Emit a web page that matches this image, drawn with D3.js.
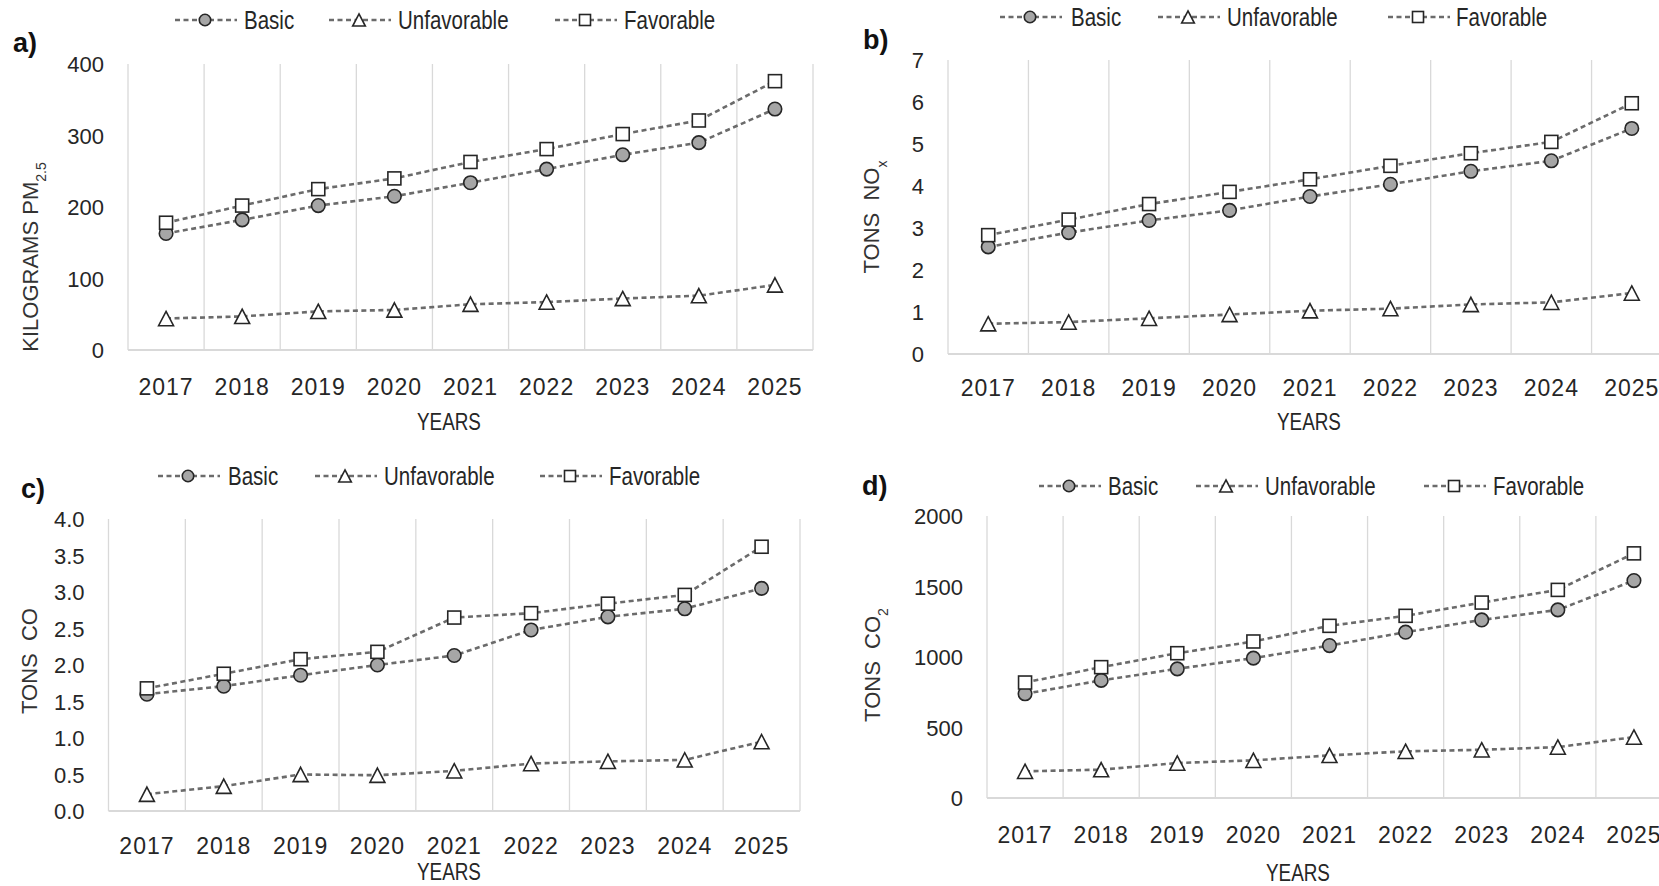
<!DOCTYPE html>
<html>
<head>
<meta charset="utf-8">
<script src="https://cdn.jsdelivr.net/npm/d3@7"></script>
<style>
  body { margin: 0; background: #fff; }
  svg { display: block; font-family: "Liberation Sans", Arial, sans-serif; }
</style>
</head>
<body>
<div id="chart"></div>
<script>
const years = ["2017", "2018", "2019", "2020", "2021", "2022", "2023", "2024", "2025"];
const seriesNames = ["Basic", "Unfavorable", "Favorable"];

// a) kilograms PM2.5
const pmBasic = [163, 182, 202, 215, 234, 253, 273, 290, 337];
const pmUnfav = [44, 47, 54, 56, 64, 67, 72, 76, 91];
const pmFav = [178, 202, 225, 240, 263, 281, 302, 321, 376];
const pmTicks = [0, 100, 200, 300, 400];

// b) tons NOx
const noxBasic = [2.55, 2.89, 3.18, 3.42, 3.75, 4.04, 4.35, 4.6, 5.37];
const noxUnfav = [0.72, 0.76, 0.85, 0.94, 1.03, 1.08, 1.18, 1.23, 1.45];
const noxFav = [2.83, 3.2, 3.57, 3.86, 4.16, 4.48, 4.78, 5.05, 5.97];
const noxTicks = [0, 1, 2, 3, 4, 5, 6, 7];

// c) tons CO
const coBasic = [1.6, 1.71, 1.86, 2.0, 2.13, 2.48, 2.66, 2.77, 3.05];
const coUnfav = [0.23, 0.34, 0.5, 0.49, 0.55, 0.65, 0.68, 0.7, 0.95];
const coFav = [1.68, 1.88, 2.08, 2.18, 2.65, 2.71, 2.84, 2.96, 3.62];
const coTicks = [0, 0.5, 1, 1.5, 2, 2.5, 3, 3.5, 4];

// d) tons CO2
const co2Basic = [739, 834, 916, 992, 1081, 1176, 1263, 1334, 1542];
const co2Unfav = [189, 201, 248, 267, 302, 331, 342, 361, 432];
const co2Fav = [819, 928, 1027, 1110, 1221, 1292, 1386, 1476, 1735];
const co2Ticks = [0, 500, 1000, 1500, 2000];

const panels = [
    {
        tag: "a)", title: ["KILOGRAMS PM", "2.5"], series: [pmBasic, pmUnfav, pmFav],
        ticks: pmTicks, fmt: d3.format("d"),
        left: 128, right: 813, top: 64, bottom: 350,
        tagPos: [13, 42], titlePos: [30, 257], xLabelY: 387, yearsPos: [449, 422],
        legendY: 20, legendX: [[175, 244], [329, 398], [555, 624]]
    },
    {
        tag: "b)", title: ["TONS\u00a0\u00a0NO", "x"], series: [noxBasic, noxUnfav, noxFav],
        ticks: noxTicks, fmt: d3.format("d"),
        left: 948, right: 1672, top: 60, bottom: 354,
        tagPos: [863, 39], titlePos: [871, 217], xLabelY: 388, yearsPos: [1309, 422],
        legendY: 17, legendX: [[1000, 1071], [1158, 1227], [1388, 1456]]
    },
    {
        tag: "c)", title: ["TONS\u00a0\u00a0CO", ""], series: [coBasic, coUnfav, coFav],
        ticks: coTicks, fmt: d3.format(".1f"),
        left: 108.5, right: 800, top: 519, bottom: 811,
        tagPos: [21, 488], titlePos: [29, 661], xLabelY: 846, yearsPos: [449, 872],
        legendY: 476, legendX: [[158, 228], [315, 384], [540, 609]]
    },
    {
        tag: "d)", title: ["TONS\u00a0\u00a0CO", "2"], series: [co2Basic, co2Unfav, co2Fav],
        ticks: co2Ticks, fmt: d3.format("d"),
        left: 987, right: 1672, top: 516, bottom: 798,
        tagPos: [862, 485], titlePos: [872, 665], xLabelY: 835, yearsPos: [1298, 873],
        legendY: 486, legendX: [[1039, 1108], [1196, 1265], [1424, 1493]]
    }
];

const lineColor = "#6b6b6b";
const markerStroke = "#262626";
const narrow = 0.82; // squeeze for the condensed-looking legend / YEARS text

const svg = d3.select("#chart")
    .append("svg")
    .attr("width", 1659)
    .attr("height", 886);

// marker drawing: 0 = circle, 1 = triangle, 2 = square
function drawMarker(sel, type, cx, cy, s) {
    if (type === 0) {
        sel.append("circle")
            .attr("cx", cx).attr("cy", cy).attr("r", s * 0.52)
            .attr("fill", "#a6a6a6");
    } else if (type === 1) {
        const w = s * 1.15, h = s * 1.1;
        sel.append("path")
            .attr("d", `M${cx},${cy - h / 2}L${cx + w / 2},${cy + h / 2}L${cx - w / 2},${cy + h / 2}Z`)
            .attr("fill", "#fff");
    } else {
        sel.append("rect")
            .attr("x", cx - s / 2).attr("y", cy - s / 2)
            .attr("width", s).attr("height", s)
            .attr("fill", "#fff");
    }
    sel.selectAll(":last-child")
        .attr("stroke", markerStroke)
        .attr("stroke-width", 1.6);
}

panels.forEach((p) => {
    const g = svg.append("g");

    const x = d3.scaleBand().domain(years).range([p.left, p.right]).padding(0);
    const y = d3.scaleLinear().domain([0, d3.max(p.ticks)]).range([p.bottom, p.top]);
    const cx = (d) => x(d) + x.bandwidth() / 2;

    // vertical gridlines at category boundaries
    const bounds = years.map((d) => x(d)).concat([x.range()[1]]);
    g.append("g")
        .selectAll("line")
        .data(bounds)
        .join("line")
        .attr("x1", (d) => d).attr("x2", (d) => d)
        .attr("y1", y(d3.max(p.ticks))).attr("y2", y(0))
        .attr("stroke", "#d9d9d9")
        .attr("stroke-width", 1.3);

    // baseline
    g.append("line")
        .attr("x1", p.left).attr("x2", p.right)
        .attr("y1", y(0)).attr("y2", y(0))
        .attr("stroke", "#d9d9d9")
        .attr("stroke-width", 1.8);

    // Y axis
    const yAxis = g.append("g")
        .attr("transform", `translate(${p.left - 24},0)`)
        .call(d3.axisLeft(y).tickValues(p.ticks).tickFormat(p.fmt).tickSize(0).tickPadding(0));
    yAxis.select(".domain").remove();
    yAxis.selectAll("text")
        .attr("dy", "0.36em")
        .style("font-size", "22px")
        .style("font-family", "'Liberation Sans', Arial, sans-serif")
        .attr("fill", "#262626");

    // X axis
    const xAxis = g.append("g")
        .attr("transform", `translate(0,${p.xLabelY})`)
        .call(d3.axisBottom(x).tickSize(0).tickPadding(0));
    xAxis.select(".domain").remove();
    xAxis.selectAll("text")
        .attr("y", 0)
        .attr("dy", "0.36em")
        .style("font-size", "23px")
        .style("letter-spacing", "1px")
        .style("font-family", "'Liberation Sans', Arial, sans-serif")
        .attr("fill", "#262626");

    // X axis label
    g.append("text")
        .attr("transform", `translate(${p.yearsPos[0]},${p.yearsPos[1]}) scale(${narrow},1)`)
        .attr("dy", "0.36em")
        .attr("text-anchor", "middle")
        .style("font-size", "23px")
        .attr("fill", "#262626")
        .text("YEARS");

    // Y axis label
    const yt = g.append("text")
        .attr("transform", `translate(${p.titlePos[0]},${p.titlePos[1]}) rotate(-90)`)
        .attr("dy", "0.36em")
        .attr("text-anchor", "middle")
        .style("font-size", "22px")
        .attr("fill", "#333");
    yt.append("tspan").text(p.title[0]);
    if (p.title[1]) {
        yt.append("tspan")
            .attr("baseline-shift", "sub")
            .style("font-size", "14px")
            .text(p.title[1]);
    }

    // panel tag
    g.append("text")
        .attr("x", p.tagPos[0]).attr("y", p.tagPos[1])
        .attr("dy", "0.36em")
        .style("font-size", "27px")
        .style("font-weight", "bold")
        .attr("fill", "#111")
        .text(p.tag);

    // series
    const line = d3.line()
        .x((d, i) => cx(years[i]))
        .y((d) => y(d));

    p.series.forEach((values, si) => {
        const sg = g.append("g");
        sg.append("path")
            .datum(values)
            .attr("d", line)
            .attr("fill", "none")
            .attr("stroke", lineColor)
            .attr("stroke-width", 2.6)
            .attr("stroke-dasharray", "5,3.5");
        values.forEach((v, i) => {
            drawMarker(sg.append("g"), si, cx(years[i]), y(v), 13);
        });
    });

    // legend
    seriesNames.forEach((name, si) => {
        const [x0, tx] = p.legendX[si];
        const lg = g.append("g");
        lg.append("line")
            .attr("x1", x0).attr("x2", x0 + 62)
            .attr("y1", p.legendY).attr("y2", p.legendY)
            .attr("stroke", lineColor)
            .attr("stroke-width", 2.4)
            .attr("stroke-dasharray", "5,3.5");
        drawMarker(lg.append("g"), si, x0 + 30, p.legendY, 11);
        lg.append("text")
            .attr("transform", `translate(${tx},${p.legendY}) scale(${narrow},1)`)
            .attr("dy", "0.36em")
            .style("font-size", "25px")
            .attr("fill", "#262626")
            .text(name);
    });
});
</script>
</body>
</html>
